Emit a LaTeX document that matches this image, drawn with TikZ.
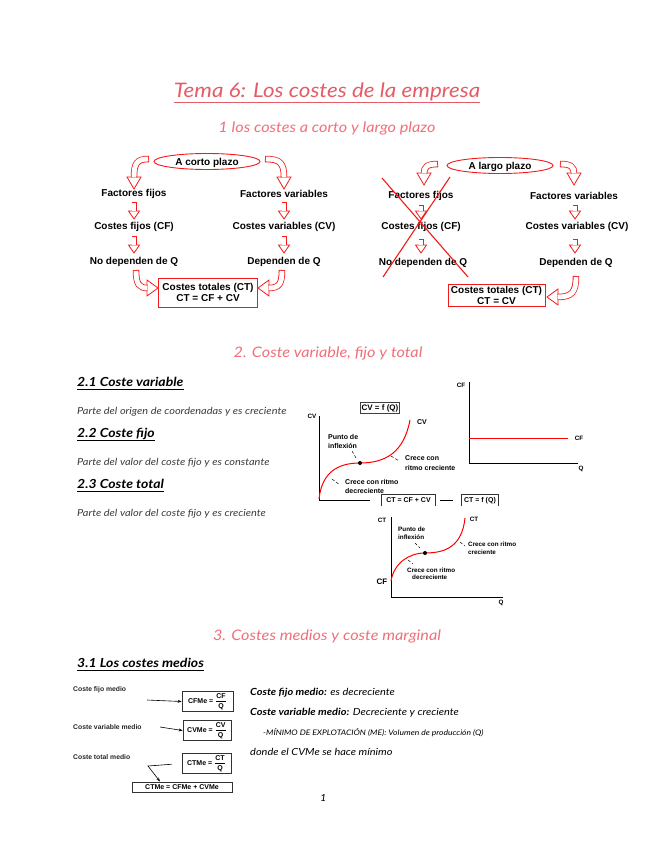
\documentclass[tikz,border=0pt]{standalone}
\usepackage{fontspec}
\setmainfont{Liberation Sans}
\newfontfamily\hand{Lato}[FakeStretch=1.12]
\usetikzlibrary{calc,shapes.geometric,arrows.meta}
\definecolor{ttlred}{RGB}{228,92,104}
\definecolor{subred}{RGB}{240,112,122}
\definecolor{arrred}{RGB}{245,25,25}
\definecolor{bodygray}{RGB}{60,60,60}

\newcommand\hollowarrow[6]{%
  \pgfmathsetmacro\hbk{#6-0.4}%
  \draw[arrred, line width=0.8pt, fill=white, line join=miter]
    (#2) -- ($(#2)+(#3+180:#6)+(#3+90:#5)$) -- ($(#2)+(#3+180:#6)+(#3-90:#5)$) -- cycle;
  \draw[arrred, line width=#4] #1 ($(#2)+(#3+180:\hbk)$);
  \draw[white, line width=#4-1.6pt, shorten <=0.8pt] #1 ($(#2)+(#3+180:\hbk)$);
}

\tikzset{
  ttl/.style={font=\hand\itshape\fontsize{20}{24}\selectfont, text=ttlred, inner sep=0},
  sub/.style={font=\hand\itshape\fontsize{14.5}{17}\selectfont, text=subred, inner sep=0},
  lbl/.style={font=\bfseries\fontsize{10}{11}\selectfont, inner sep=0, align=center},
  redbox/.style={lbl, draw=arrred, line width=1pt},
  hdr/.style={font=\hand\itshape\bfseries\fontsize{12.5}{15}\selectfont, inner sep=0, anchor=base west},
  body/.style={font=\hand\itshape\fontsize{9.8}{11}\selectfont, text=bodygray, inner sep=0, anchor=west},
  sm/.style={font=\bfseries\fontsize{7}{8}\selectfont, inner sep=0},
  smt/.style={font=\bfseries\fontsize{6.3}{7}\selectfont, inner sep=0},
  axis/.style={black, line width=0.7pt},
  curve/.style={red, line width=1pt},
  tickm/.style={black, line width=0.5pt, densely dashed},
  fbox/.style={font=\bfseries\fontsize{8}{9}\selectfont, draw=black!75, line width=1pt, inner sep=1.5pt},
  fml/.style={font=\bfseries\fontsize{7}{8}\selectfont, draw=black!80, line width=0.8pt, inner sep=1.5pt},
  lt/.style={font=\bfseries\fontsize{6.8}{8}\selectfont, text=black!85, inner sep=0, anchor=west},
}

\begin{document}
\begin{tikzpicture}[x=1pt,y=-1pt]
\useasboundingbox (0,0) rectangle (655,848);
\fill[white] (0,0) rectangle (655,848);

% ---------- Title ----------
\node[ttl] (title) at (327,92) {Tema 6: Los costes de la empresa};
\draw[ttlred, line width=1.3pt] ([yshift=-5pt]title.base west) -- ([yshift=-5pt]title.base east);
\node[sub] (s1) at (327,128) {1 los costes a corto y largo plazo};

% ---------- Short run ----------
\draw[arrred, line width=0.9pt] (207,161.5) ellipse [x radius=53, y radius=8];
\node[lbl, anchor=base] (cp) at (207,165) {A corto plazo};
\node[lbl] (ff1) at (134,194) {Factores fijos};
\node[lbl] (cf1) at (134,227) {Costes fijos (CF)};
\node[lbl] (nd1) at (134,262) {No dependen de Q};
\node[lbl] (fv1) at (284,194) {Factores variables};
\node[lbl] (cv1) at (284,227) {Costes variables (CV)};
\node[lbl] (dq1) at (284,262) {Dependen de Q};
\node[redbox, minimum width=99, minimum height=29] (ct1) at (208,292.5) {Costes totales (CT)\\CT = CF + CV};

\hollowarrow{(149,159) .. controls (137,159) and (134,163) ..}{134,189}{90}{6.5pt}{7}{12}
\hollowarrow{(265,159) .. controls (280,159) and (284,163) ..}{284,189}{90}{6.5pt}{7}{12}
\hollowarrow{(134,202) --}{134,219}{90}{5pt}{5.5}{8}
\hollowarrow{(134,236) --}{134,253}{90}{5pt}{5.5}{8}
\hollowarrow{(284,202) --}{284,219}{90}{5pt}{5.5}{8}
\hollowarrow{(284,236) --}{284,253}{90}{5pt}{5.5}{8}
\hollowarrow{(136,270) .. controls (136,284) and (139,288) ..}{158,288}{0}{6.5pt}{8}{11}
\hollowarrow{(282,270) .. controls (282,284) and (279,288) ..}{258,288}{180}{6.5pt}{8}{11}

% ---------- Long run ----------
\draw[arrred, line width=0.9pt] (500,165.5) ellipse [x radius=53, y radius=8];
\node[lbl, anchor=base] (lp) at (500,169) {A largo plazo};
\node[lbl] (ff2) at (421,196) {Factores fijos};
\node[lbl] (cf2) at (421,227) {Costes fijos (CF)};
\node[lbl] (nd2) at (423,263) {No dependen de Q};
\node[lbl] (fv2) at (574,196) {Factores variables};
\node[lbl] (cv2) at (577,227) {Costes variables (CV)};
\node[lbl] (dq2) at (576,263) {Dependen de Q};
\node[redbox, minimum width=97, minimum height=22] (ct2) at (496.5,295.5) {Costes totales (CT)\\CT = CV};

\hollowarrow{(438,164) .. controls (427,164) and (424,167) ..}{424,185}{90}{6.5pt}{7}{12}
\hollowarrow{(560,164) .. controls (571,164) and (574,167) ..}{574,185}{90}{6.5pt}{7}{12}
\hollowarrow{(421,205) --}{421,219}{90}{5pt}{5.5}{8}
\hollowarrow{(421,239) --}{421,253}{90}{5pt}{5.5}{8}
\hollowarrow{(575,205) --}{575,219}{90}{5pt}{5.5}{8}
\hollowarrow{(575,239) --}{575,253}{90}{5pt}{5.5}{8}
\hollowarrow{(576,276) .. controls (576,292) and (572,297) ..}{547,297}{180}{6.5pt}{8}{11}

\draw[arrred, line width=1.1pt] (382,178) -- (468,277);
\draw[arrred, line width=1.1pt] (450,177) -- (383,277);

% ---------- Section 2 ----------
\node[sub] (s2) at (328,353) {2. Coste variable, fijo y total};

\node[hdr] (h21) at (77,386) {2.1 Coste variable};
\draw[line width=0.9pt] ([yshift=-3pt]h21.base west) -- ([yshift=-3pt]h21.base east);
\node[body] (b21) at (77,412) {Parte del origen de coordenadas y es creciente};
\node[hdr] (h22) at (77,437) {2.2 Coste fijo};
\draw[line width=0.9pt] ([yshift=-3pt]h22.base west) -- ([yshift=-3pt]h22.base east);
\node[body] (b22) at (77,463) {Parte del valor del coste fijo y es constante};
\node[hdr] (h23) at (77,488) {2.3 Coste total};
\draw[line width=0.9pt] ([yshift=-3pt]h23.base west) -- ([yshift=-3pt]h23.base east);
\node[body] (b23) at (77,514) {Parte del valor del coste fijo y es creciente};

% CV graph
\coordinate (cvO) at (319,500);
\coordinate (cvT) at (319,416);
\coordinate (cvR) at (370,500);
\draw[axis] (cvT) -- (cvO) -- (cvR);
\node[smt] (cvax) at (312,416) {CV};
\node[fbox] (cvf) at (380,408) {CV = f (Q)};
\draw[curve] (319,499) .. controls (322,472) and (338,463) .. (360,463) .. controls (386,463) and (404,452) .. (410,420);
\fill (360,463) circle (2);
\node[sm] (cvl) at (422,422) {CV};
\node[sm, anchor=west] (pi1) at (328,437) {Punto de};
\node[sm, anchor=west] (pi2) at (328,446) {inflexión};
\draw[tickm] (352,451) -- (356,458);
\node[sm, anchor=west] (cc1) at (405,458) {Crece con};
\node[sm, anchor=west] (cc2) at (405,468) {ritmo creciente};
\draw[tickm] (391,456) -- (399,461);
\node[sm, anchor=west] (cd1) at (345,482) {Crece con ritmo};
\node[sm, anchor=west] (cd2) at (345,491) {decreciente};
\draw[tickm] (332,479) -- (340,485);

% CT boxes
\node[font=\bfseries\fontsize{7}{8}\selectfont, minimum width=53, minimum height=11, inner sep=0] (ctsum) at (408.5,500.5) {CT = CF + CV};
\draw[black!80, line width=0.8pt] (ctsum.south west) -- (ctsum.north west) -- (ctsum.north east) -- (ctsum.south east);
\node[font=\bfseries\fontsize{7}{8}\selectfont, minimum width=36, minimum height=11, inner sep=0] (ctf) at (480,500.5) {CT = f (Q)};
\draw[black!80, line width=0.8pt] (ctf.south west) -- (ctf.north west) -- (ctf.north east) -- (ctf.south east);
\draw[black, line width=0.8pt, shorten <=5pt, shorten >=9pt] (ctsum) -- (ctf);

% CF graph
\coordinate (cfO) at (469,463);
\draw[axis] (469,382) -- (cfO) -- (578,463);
\draw[red, line width=1pt] (469,438) -- (568,438);
\node[smt] (cfax) at (461,385) {CF};
\node[smt] (cfl) at (579,438) {CF};
\node[smt] (cfq) at (581,469) {Q};

% CT graph
\coordinate (ctO) at (391,597);
\draw[axis] (391,517) -- (ctO) -- (503,597);
\node[smt] (ctax) at (382,520) {CT};
\node[sm, font=\bfseries\fontsize{8}{9}\selectfont] (ctcf) at (382,582) {CF};
\node[smt] (ctq) at (501,603) {Q};
\draw[curve] (391,581) .. controls (394,563) and (409,553) .. (425,553) .. controls (446,553) and (462,546) .. (465,518);
\fill (425,553) circle (2);
\node[smt] (ctl) at (474,519) {CT};
\node[smt, anchor=west] (tp1) at (398,529) {Punto de};
\node[smt, anchor=west] (tp2) at (398,537) {inflexión};
\draw[tickm] (415,543) -- (420,548);
\node[smt, anchor=west] (tc1) at (468,544) {Crece con ritmo};
\node[smt, anchor=west] (tc2) at (468,552) {creciente};
\draw[tickm] (460,542) -- (465,546);
\node[smt, anchor=west] (td1) at (407,570) {Crece con ritmo};
\node[smt, anchor=west] (td2) at (412,577) {decreciente};
\draw[tickm] (408,560) -- (413,564);

% ---------- Section 3 ----------
\node[sub] (s3) at (327,636) {3. Costes medios y coste marginal};
\node[hdr] (h31) at (77,667) {3.1 Los costes medios};
\draw[line width=0.9pt] ([yshift=-3pt]h31.base west) -- ([yshift=-3pt]h31.base east);

\node[lt] (tfm) at (73,690) {Coste fijo medio};
\node[lt] (tvm) at (73,727) {Coste variable medio};
\node[lt] (ttm) at (73,757) {Coste total medio};

\node[fml, minimum width=51, minimum height=19] (cfme) at (207.5,701.5) {CFMe = $\displaystyle\frac{\mbox{\bfseries CF}}{\mbox{\bfseries Q}}$};
\node[fml, minimum width=48, minimum height=19] (cvme) at (207,730.5) {CVMe = $\displaystyle\frac{\mbox{\bfseries CV}}{\mbox{\bfseries Q}}$};
\node[fml, minimum width=49, minimum height=19] (ctme) at (206.5,763.5) {CTMe = $\displaystyle\frac{\mbox{\bfseries CT}}{\mbox{\bfseries Q}}$};
\node[fml, minimum width=100, minimum height=10] (ctmesum) at (182,787) {CTMe = CFMe + CVMe};

\coordinate (a1s) at (147,700);
\draw[-{Stealth[length=4pt,width=3pt]}, line width=0.6pt] (a1s) -- (cfme.west);
\coordinate (a2s) at (160,727);
\draw[-{Stealth[length=4pt,width=3pt]}, line width=0.6pt] (a2s) -- (cvme.west);
\coordinate (bend) at (148,766);
\coordinate (bendend) at (160,781.5);
\draw[-{Stealth[length=4pt,width=3pt]}, line width=0.6pt, shorten <=10pt] (ctme.west) -- (bend) -- (bendend);

\node[body, text=black] (r1) at (250,693) {{\bfseries Coste fijo medio:} es decreciente};
\node[body, text=black] (r2) at (250,713) {{\bfseries Coste variable medio:} Decreciente y creciente};
\node[body, text=black, font=\hand\itshape\fontsize{7.6}{9}\selectfont] (r3) at (263,733) {-MÍNIMO DE EXPLOTACIÓN (ME): Volumen de producción (Q)};
\node[body, text=black] (r4) at (250,752) {donde el CVMe se hace mínimo};
\node[body, text=black] (pg) at (320,798) {1};
\end{tikzpicture}
\end{document}
